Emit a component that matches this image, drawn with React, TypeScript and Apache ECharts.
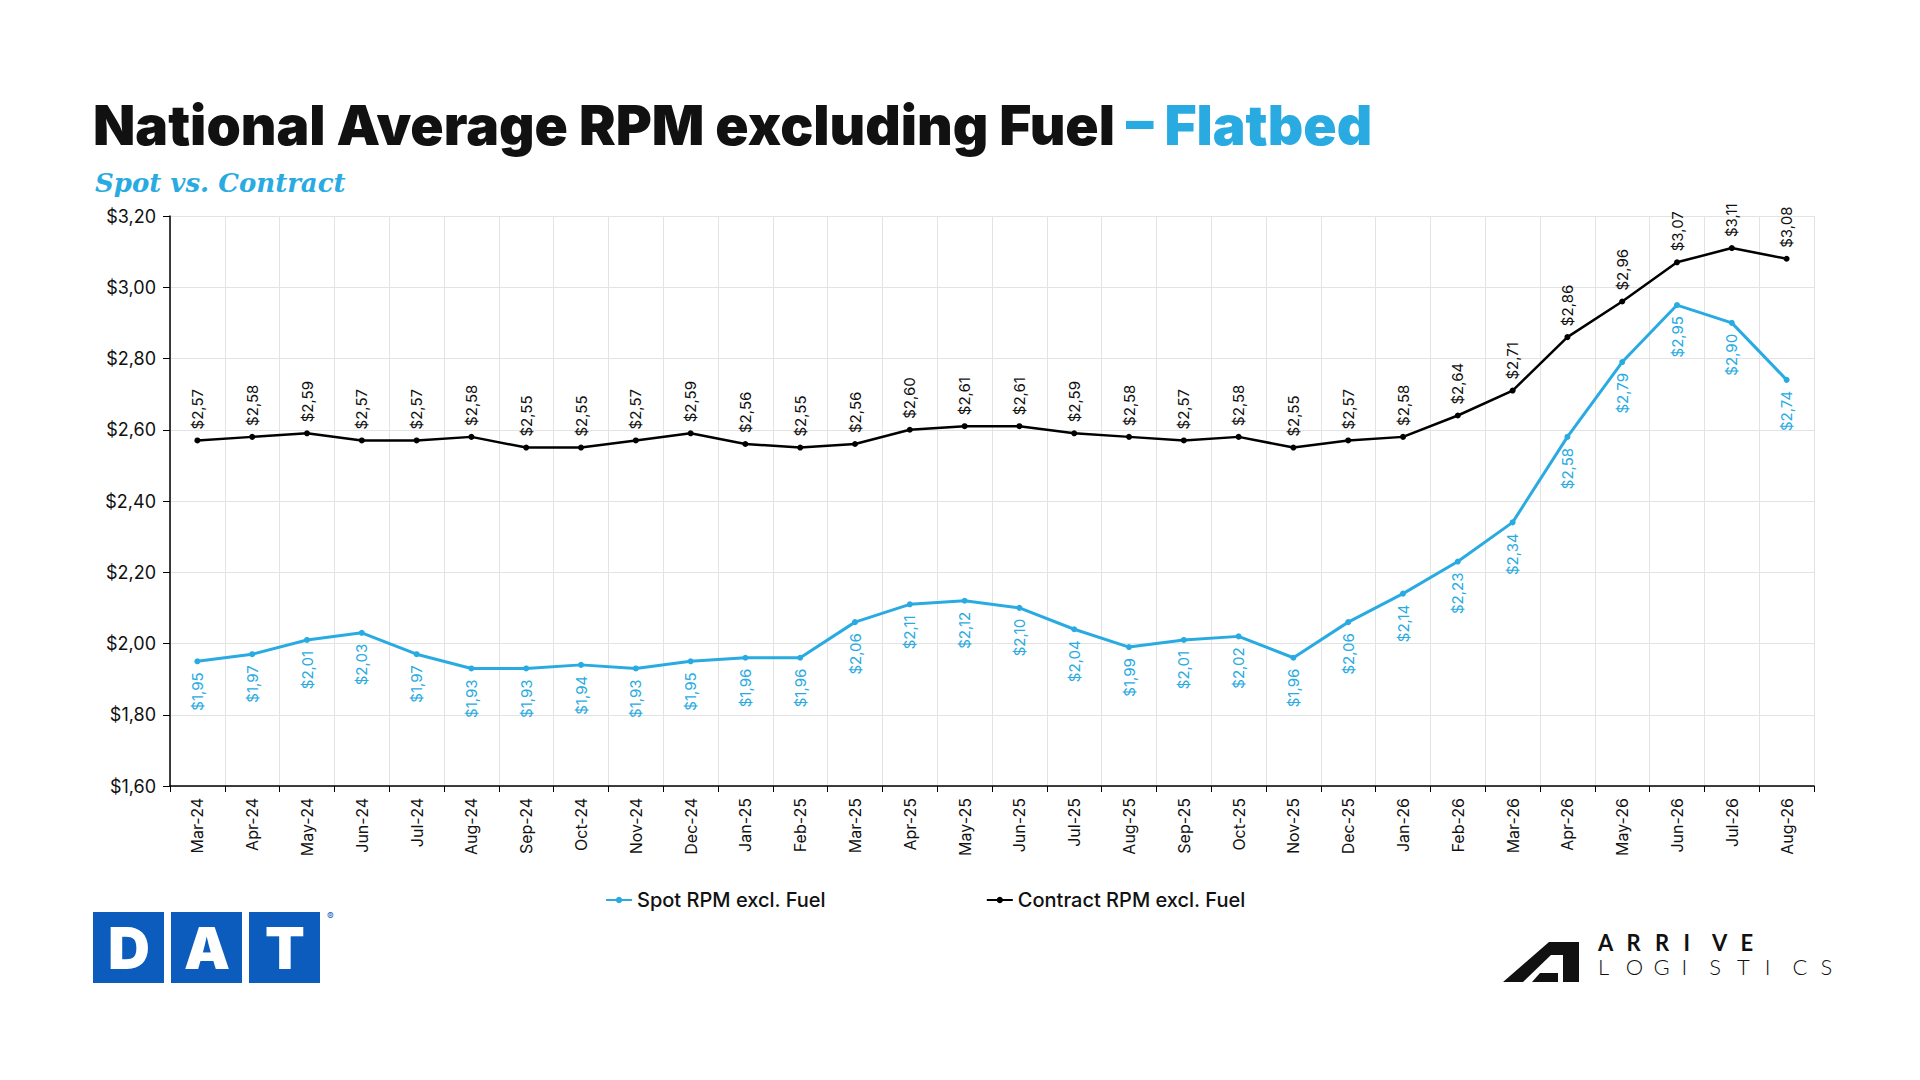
import { useEffect, useRef } from "react";
import * as echarts from "echarts";

const months = [
  "Mar-24", "Apr-24", "May-24", "Jun-24", "Jul-24", "Aug-24", "Sep-24", "Oct-24", "Nov-24", "Dec-24",
  "Jan-25", "Feb-25", "Mar-25", "Apr-25", "May-25", "Jun-25", "Jul-25", "Aug-25", "Sep-25", "Oct-25",
  "Nov-25", "Dec-25", "Jan-26", "Feb-26", "Mar-26", "Apr-26", "May-26", "Jun-26", "Jul-26", "Aug-26",
];
const spot = [
  1.95, 1.97, 2.01, 2.03, 1.97, 1.93, 1.93, 1.94, 1.93, 1.95,
  1.96, 1.96, 2.06, 2.11, 2.12, 2.10, 2.04, 1.99, 2.01, 2.02,
  1.96, 2.06, 2.14, 2.23, 2.34, 2.58, 2.79, 2.95, 2.90, 2.74,
];
const contract = [
  2.57, 2.58, 2.59, 2.57, 2.57, 2.58, 2.55, 2.55, 2.57, 2.59,
  2.56, 2.55, 2.56, 2.60, 2.61, 2.61, 2.59, 2.58, 2.57, 2.58,
  2.55, 2.57, 2.58, 2.64, 2.71, 2.86, 2.96, 3.07, 3.11, 3.08,
];

const BLUE = "#29abe2";
const money = (v: number) => "$" + v.toFixed(2).replace(".", ",");

export default function App() {
  const ref = useRef<HTMLDivElement>(null);

  useEffect(() => {
    document.body.style.margin = "0";
    if (!ref.current) return;
    const chart = echarts.init(ref.current, null, { renderer: "svg" });

    const arrive = "ARRIVE".split("").map((ch, i) => ({
      type: "text", left: 1598 + i * 28.5, top: 931,
      style: { text: ch, font: "bold 22px Lato", fill: "#111" },
    }));
    const logistics = "LOGISTICS".split("").map((ch, i) => ({
      type: "text", left: 1598 + i * 27.8, top: 955,
      style: { text: ch, font: "300 22px Lato", fill: "#111" },
    }));
    const dat = ["D", "A", "T"].map((ch, i) => ({
      type: "group", left: 93 + i * 78, top: 912,
      children: [
        { type: "rect", shape: { x: 0, y: 0, width: 71, height: 71 }, style: { fill: "#0b5cbd" } },
        { type: "text", x: 36, y: 36, style: { text: ch, font: "900 58px Inter", fill: "#fff", align: "center", verticalAlign: "middle" } },
      ],
    }));

    chart.setOption({
      animation: false,
      backgroundColor: "#fff",
      textStyle: { fontFamily: "Inter" },
      title: [
        {
          text: "National Average RPM excluding Fuel {b|– Flatbed}",
          left: 88, top: 92,
          textStyle: {
            fontSize: 55, fontWeight: 900, color: "#111", fontFamily: "Inter",
            rich: { b: { fontSize: 55, fontWeight: 900, color: BLUE, fontFamily: "Inter" } },
          },
        },
        {
          text: "Spot vs. Contract",
          left: 90, top: 165,
          textStyle: { fontSize: 26, fontStyle: "italic", color: BLUE, fontFamily: "DejaVu Serif", fontWeight: "bold" },
        },
      ],
      grid: { left: 170, right: 106, top: 216, bottom: 294 },
      legend: {
        top: 885, left: 600,
        itemGap: 160, itemWidth: 26, itemHeight: 8,
        textStyle: { fontSize: 20, fontWeight: 500, color: "#111", fontFamily: "Inter" },
        data: ["Spot RPM excl. Fuel", "Contract RPM excl. Fuel"],
      },
      xAxis: {
        type: "category",
        data: months,
        axisLine: { lineStyle: { color: "#000", width: 1.5 } },
        axisTick: { show: true, length: 6, lineStyle: { color: "#000" } },
        axisLabel: { rotate: 90, fontSize: 16, color: "#111", margin: 12, interval: 0 },
        splitLine: { show: true, lineStyle: { color: "#e3e3e3" } },
      },
      yAxis: {
        type: "value", min: 1.6, max: 3.2, interval: 0.2,
        axisLine: { show: true, lineStyle: { color: "#000", width: 1.5 } },
        axisTick: { show: true, length: 7, inside: false, lineStyle: { color: "#000" } },
        axisLabel: { formatter: money, fontSize: 18, color: "#111", margin: 14 },
        splitLine: { lineStyle: { color: "#e3e3e3" } },
      },
      series: [
        {
          name: "Spot RPM excl. Fuel", type: "line", data: spot,
          symbol: "circle", symbolSize: 6,
          lineStyle: { color: BLUE, width: 3 }, itemStyle: { color: BLUE },
          label: {
            show: true, position: "bottom", rotate: 90, distance: 8,
            align: "right", verticalAlign: "middle",
            formatter: (p: any) => money(p.value), color: BLUE, fontSize: 15,
          },
        },
        {
          name: "Contract RPM excl. Fuel", type: "line", data: contract,
          symbol: "circle", symbolSize: 6,
          lineStyle: { color: "#000", width: 2.5 }, itemStyle: { color: "#000" },
          label: {
            show: true, position: "top", rotate: 90, distance: 8,
            align: "left", verticalAlign: "middle",
            formatter: (p: any) => money(p.value), color: "#111", fontSize: 15,
          },
        },
      ],
      graphic: [
        ...dat,
        { type: "text", left: 327, top: 911, style: { text: "®", font: "10px Inter", fill: "#0b5cbd" } },
        {
          type: "polygon", shape: { points: [[1503, 982], [1549, 942], [1579, 942], [1579, 982], [1563, 982], [1563, 955], [1551, 955], [1523, 982]] },
          style: { fill: "#111" },
        },
        {
          type: "polygon", shape: { points: [[1532, 982], [1540, 973], [1558, 973], [1558, 982]] },
          style: { fill: "#111" },
        },
        ...arrive,
        ...logistics,
      ],
    });
    return () => chart.dispose();
  }, []);

  return <div ref={ref} style={{ width: 1920, height: 1080 }} />;
}
